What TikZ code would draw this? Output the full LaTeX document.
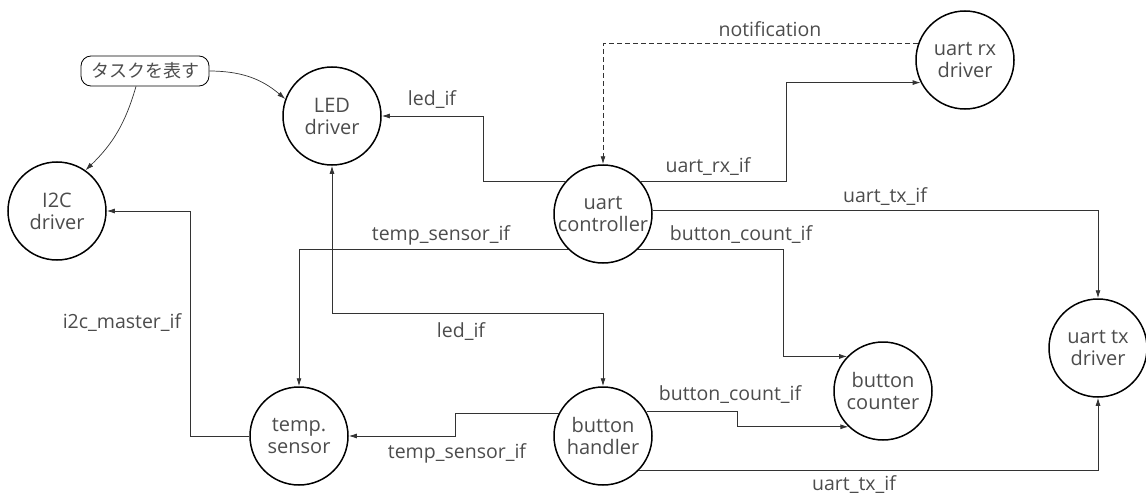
\documentclass[tikz,border=0pt]{standalone}
\usepackage{fontspec}
\setmainfont{Open Sans}
\newfontfamily\jpfont{Noto Sans CJK JP}
\usetikzlibrary{arrows.meta}
\definecolor{inkgray}{gray}{0.3}
\definecolor{wiregray}{gray}{0.2}
\begin{document}
\begin{tikzpicture}[
	x=1pt, y=-1pt,
	>={Latex[length=8pt,width=5pt]},
	task/.style={circle, draw, line width=1.5pt, minimum size=98pt, inner sep=0pt,
		align=center, text=inkgray, font=\fontsize{20}{22}\selectfont},
	wire/.style={draw=wiregray, line width=0.9pt},
	iflabel/.style={anchor=base, text=inkgray, inner sep=0pt,
		font=\fontsize{19.5}{22}\selectfont},
	memo/.style={draw, rounded corners=10pt, line width=0.8pt, minimum width=128pt,
		minimum height=30pt, inner sep=0pt, text=inkgray,
		font=\jpfont\fontsize{18}{20}\selectfont}]
   \useasboundingbox (0,0) rectangle (1146,495);
   \node[task] (leddriver) at (332,116) {LED\\driver};
   \node[task] (i2cdriver) at (57,211) {I2C\\driver};
   \node[task] (uartcontroller) at (603,214) {uart\\controller};
   \node[task] (uartrxdriver) at (965,60) {uart rx\\driver};
   \node[task] (uarttxdriver) at (1098,348) {uart tx\\driver};
   \node[task] (buttoncounter) at (883,391) {button\\counter};
   \node[task] (buttonhandler) at (603,436) {button\\handler};
   \node[task] (tempsensor) at (299,436) {temp.\\sensor};
   \node[memo] (tasknote) at (145,71) {タスクを表す};
   \draw[wire,->,line width=0.7pt] (tasknote.east) to[bend left=20] (leddriver.160);
   \draw[wire,->,line width=0.7pt] ([xshift=-9]tasknote.south) to[bend left=15] (i2cdriver.55);
   \draw[wire,->] (uartcontroller.139) -- ++(-82,0) |- (leddriver.east);
   \draw[wire,->] (uartcontroller.41) -- ++(146,0) |- (uartrxdriver.207);
   \draw[wire,->,dash pattern=on 5pt off 3pt] (uartrxdriver.161) -| (uartcontroller.north);
   \draw[wire,->] (uartcontroller.4) -| (uarttxdriver.north);
   \draw[wire,->] (uartcontroller.226) -| (tempsensor.north);
   \draw[wire,->] (uartcontroller.314) -- ++(146,0) |- (buttoncounter.136);
   \draw[wire,<->] (leddriver.south) -- ++(0,148) -| (buttonhandler.north);
   \draw[wire,->] (tempsensor.west) -- ++(-59,0) |- (i2cdriver.east);
   \draw[wire,->] (buttonhandler.153) -- ++(-103,0) |- (tempsensor.east);
   \draw[wire,->] (buttonhandler.29) -- ++(91,0) |- (buttoncounter.226);
   \draw[wire,->] (buttonhandler.316) -| (uarttxdriver.south);
   \node[iflabel] (notiflabel) at (770,37) {notification};
   \node[iflabel] (ledlabela) at (432,106) {led\_if};
   \node[iflabel] (rxlabel) at (708,172) {uart\_rx\_if};
   \node[iflabel] (txlabela) at (885,202) {uart\_tx\_if};
   \node[iflabel] (templabela) at (441,240) {temp\_sensor\_if};
   \node[iflabel] (countlabela) at (741,240) {button\_count\_if};
   \node[iflabel] (ledlabelb) at (461,337) {led\_if};
   \node[iflabel] (i2clabel) at (122,328) {i2c\_master\_if};
   \node[iflabel] (templabelb) at (457,458) {temp\_sensor\_if};
   \node[iflabel] (countlabelb) at (730,400) {button\_count\_if};
   \node[iflabel] (txlabelb) at (854,490) {uart\_tx\_if};
\end{tikzpicture}
\end{document}
